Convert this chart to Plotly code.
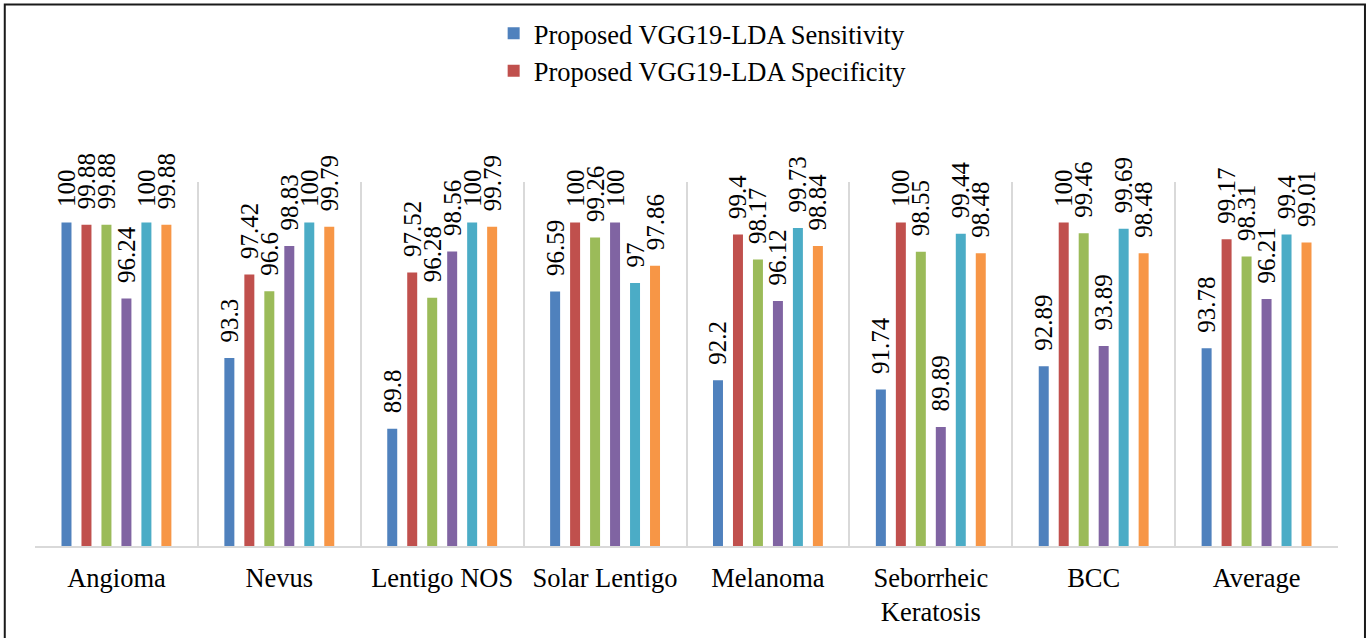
import plotly.graph_objects as go

# Lesion classes on the x axis
categories = ["Angioma", "Nevus", "Lentigo NOS", "Solar Lentigo", "Melanoma",
              "Seborrheic<br>Keratosis", "BCC", "Average"]

# Per-class results of the proposed model (%)
sensitivity = [100, 93.3, 89.8, 96.59, 92.2, 91.74, 92.89, 93.78]
specificity = [99.88, 97.42, 97.52, 100, 99.4, 100, 100, 99.17]
series_3 = [99.88, 96.6, 96.28, 99.26, 98.17, 98.55, 99.46, 98.31]
series_4 = [96.24, 98.83, 98.56, 100, 96.12, 89.89, 93.89, 96.21]
series_5 = [100, 100, 100, 97, 99.73, 99.44, 99.69, 99.4]
series_6 = [99.88, 99.79, 99.79, 97.86, 98.84, 98.48, 98.48, 99.01]

series = [
    ("Proposed VGG19-LDA Sensitivity", sensitivity, "#4F81BD", True),
    ("Proposed VGG19-LDA Specificity", specificity, "#C0504D", True),
    ("Series 3", series_3, "#9BBB59", False),
    ("Series 4", series_4, "#8064A2", False),
    ("Series 5", series_5, "#4BACC6", False),
    ("Series 6", series_6, "#F79646", False),
]

FONT = '"Liberation Serif", "Times New Roman", "DejaVu Serif", serif'
PAD = "\u00a0\u00a0"  # lifts the rotated value labels a little off the bar tops

fig = go.Figure()
for i, (name, vals, color, in_legend) in enumerate(series):
    fig.add_trace(go.Bar(
        name=name,
        x=categories,
        y=vals,
        marker=dict(color=color, line=dict(width=0)),
        text=[PAD + f"{v:g}" for v in vals],
        textposition="outside",
        textangle=-90,
        constraintext="none",
        cliponaxis=False,
        textfont=dict(family=FONT, size=25, color="black"),
        showlegend=in_legend,
        legendgroup=f"g{i}",
        hoverinfo="x+y+name",
    ))

# outer frame of the chart
fig.add_shape(type="rect", xref="paper", yref="paper",
              x0=-0.0232, x1=1.0207, y0=-0.27, y1=1.4876,
              line=dict(color="#1a1a1a", width=2), fillcolor="rgba(0,0,0,0)",
              layer="above")

fig.update_layout(
    width=1368, height=638,
    margin=dict(l=35, r=30, t=182, b=92, autoexpand=False),
    paper_bgcolor="white",
    plot_bgcolor="white",
    barmode="group",
    bargap=0.264,
    bargroupgap=0.5,
    font=dict(family=FONT, size=26.5, color="black"),
    legend=dict(
        x=0.352, y=1.474, xanchor="left", yanchor="top",
        orientation="v",
        traceorder="grouped",
        tracegroupgap=0,
        font=dict(family=FONT, size=26.5, color="black"),
        bgcolor="rgba(0,0,0,0)",
    ),
    xaxis=dict(
        type="category",
        tickson="boundaries",
        showgrid=True,
        gridcolor="#D9D9D9",
        gridwidth=2,
        showline=True,
        linecolor="#D9D9D9",
        linewidth=2,
        ticks="",
        ticklabelstandoff=7,
        tickfont=dict(family=FONT, size=26.5, color="black"),
        fixedrange=True,
        automargin=False,
    ),
    yaxis=dict(
        range=[84, 102],
        showgrid=False,
        zeroline=False,
        showticklabels=False,
        ticks="",
        showline=False,
        fixedrange=True,
        automargin=False,
    ),
)

fig.write_html("out.html")
